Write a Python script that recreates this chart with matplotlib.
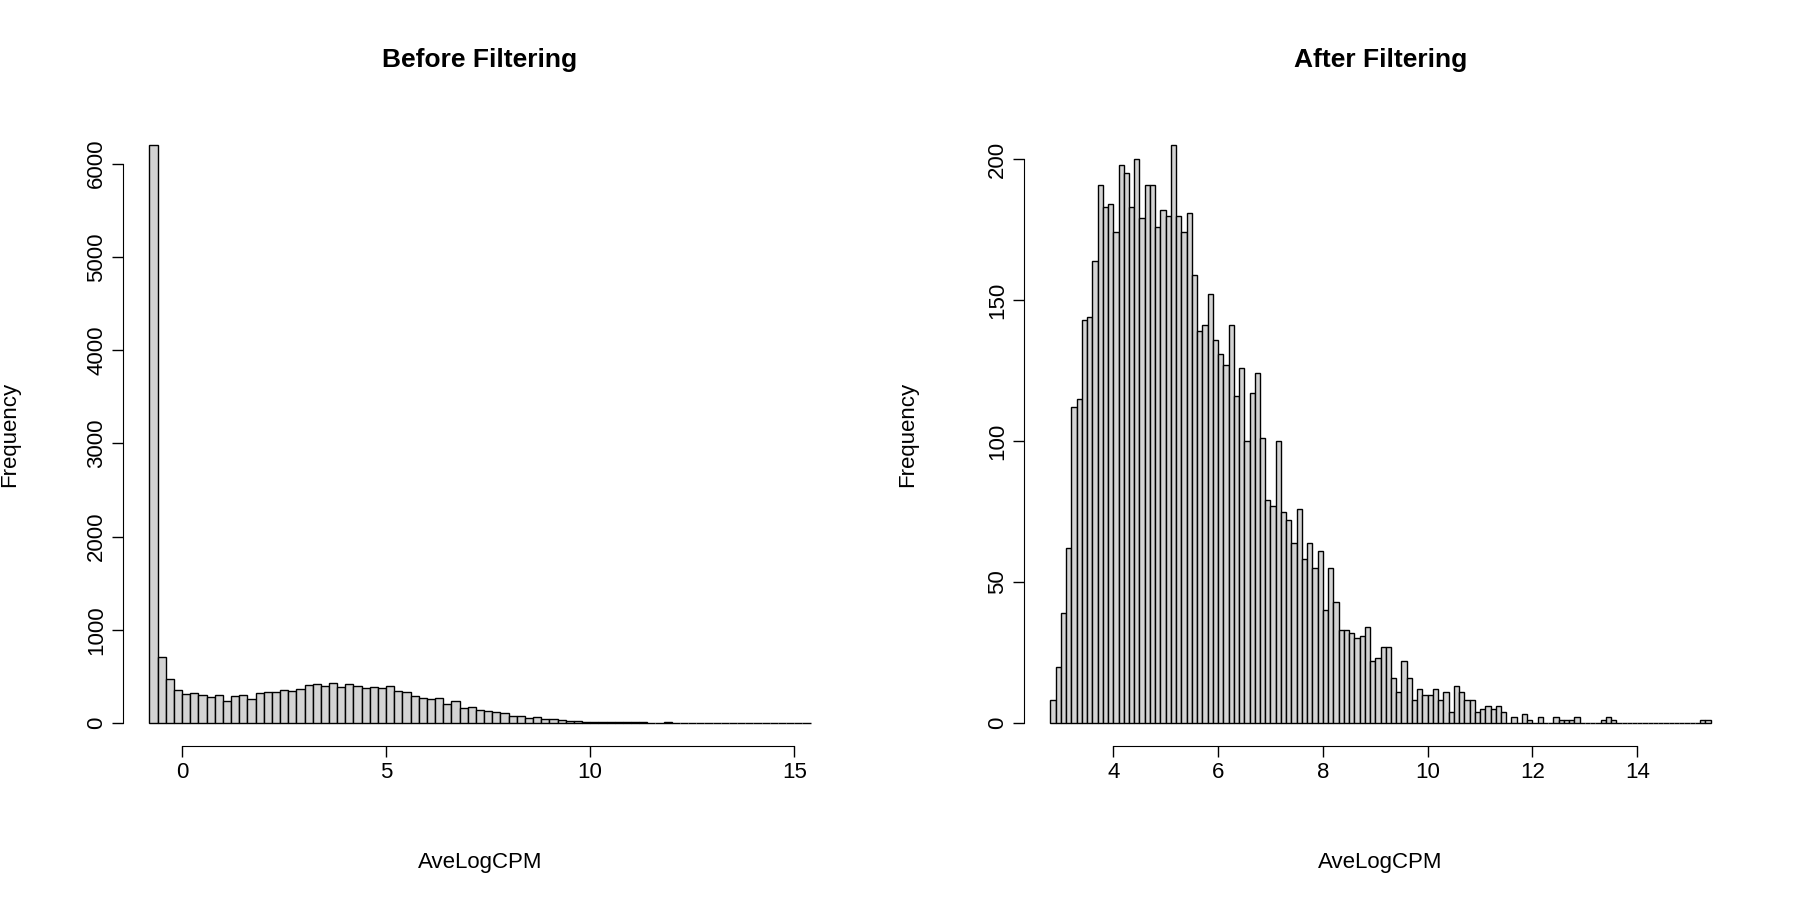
import numpy as np
import matplotlib.pyplot as plt

plt.rcParams['font.family'] = ['Liberation Sans', 'DejaVu Sans']

# histogram of AveLogCPM before filtering (bin width 0.2, from -0.8)
before_start = -0.8
before_width = 0.2
before_counts = [6200, 712, 469, 358, 315, 319, 294, 279, 304, 240,
                 290, 301, 261, 322, 333, 329, 354, 347, 365, 405,
                 415, 401, 433, 383, 422, 394, 379, 387, 372, 401,
                 347, 329, 286, 272, 254, 268, 200, 236, 165, 175,
                 140, 132, 118, 111, 75, 75, 50, 61, 39, 43,
                 32, 25, 18, 14, 14, 14, 12, 7, 7, 10,
                 5, 4, 4, 5, 3, 3, 2, 4, 3, 2,
                 3, 2, 2, 1, 1, 2, 1, 1, 1, 1, 1]

# after filtering (bin width 0.1, from 2.8)
after_start = 2.8
after_width = 0.1
after_counts = [8, 20, 39, 62, 112, 115, 143, 144, 164, 191,
                183, 184, 174, 198, 195, 183, 200, 179, 191, 191,
                176, 182, 180, 205, 180, 174, 181, 159, 139, 141,
                152, 136, 131, 127, 141, 116, 126, 100, 117, 124,
                101, 79, 77, 100, 75, 72, 64, 76, 58, 64,
                55, 61, 40, 55, 43, 33, 33, 32, 30, 31,
                34, 22, 23, 27, 27, 16, 11, 22, 16, 8,
                12, 10, 10, 12, 8, 11, 4, 13, 11, 8,
                8, 4, 5, 6, 5, 6, 4, 0, 2, 0,
                3, 1, 0, 2, 0, 0, 2, 1, 1, 1,
                2, 0, 0, 0, 0, 1, 2, 1, 0, 0,
                0, 0, 0, 0, 0, 0, 0, 0, 0, 0,
                0, 0, 0, 0, 1, 1]

fig = plt.figure(figsize=(18, 9), dpi=100)
ax1 = fig.add_axes([123/1800, 1 - 746/900, 714/1800, 624/900])
ax2 = fig.add_axes([1024/1800, 1 - 746/900, 713/1800, 624/900])


def r_hist(ax, start, width, counts, title, yticks, xticks):
    counts = np.array(counts)
    left = start + width * np.arange(len(counts))
    ax.bar(left, counts, width=width, align='edge', color='#d3d3d3',
           edgecolor='black', linewidth=1.0)
    lo, hi = start, start + width * len(counts)
    pad = 0.04 * (hi - lo)
    ax.set_xlim(lo - pad, hi + pad)
    ymax = counts.max()
    ax.set_ylim(-0.04 * ymax, ymax * 1.04)
    for s in ['top', 'right']:
        ax.spines[s].set_visible(False)
    ax.set_yticks(yticks)
    ax.set_xticks(xticks)
    ax.spines['left'].set_bounds(yticks[0], yticks[-1])
    ax.spines['bottom'].set_bounds(xticks[0], xticks[-1])
    ax.tick_params(labelsize=16, length=8, width=1)
    plt.setp(ax.get_yticklabels(), rotation=90, va='center')
    ax.set_xlabel('AveLogCPM', fontsize=16)
    ax.set_ylabel('Frequency', fontsize=16)
    ax.xaxis.set_label_coords(0.5, -0.17)
    ax.set_title(title, fontsize=19, fontweight='bold', y=1.075)


r_hist(ax1, before_start, before_width, before_counts, 'Before Filtering',
       [0, 1000, 2000, 3000, 4000, 5000, 6000], [0, 5, 10, 15])
ax1.yaxis.set_label_coords(-0.144, 0.5)
r_hist(ax2, after_start, after_width, after_counts, 'After Filtering',
       [0, 50, 100, 150, 200], [4, 6, 8, 10, 12, 14])
ax2.yaxis.set_label_coords(-0.149, 0.5)

fig.savefig('out.png', dpi=100)
